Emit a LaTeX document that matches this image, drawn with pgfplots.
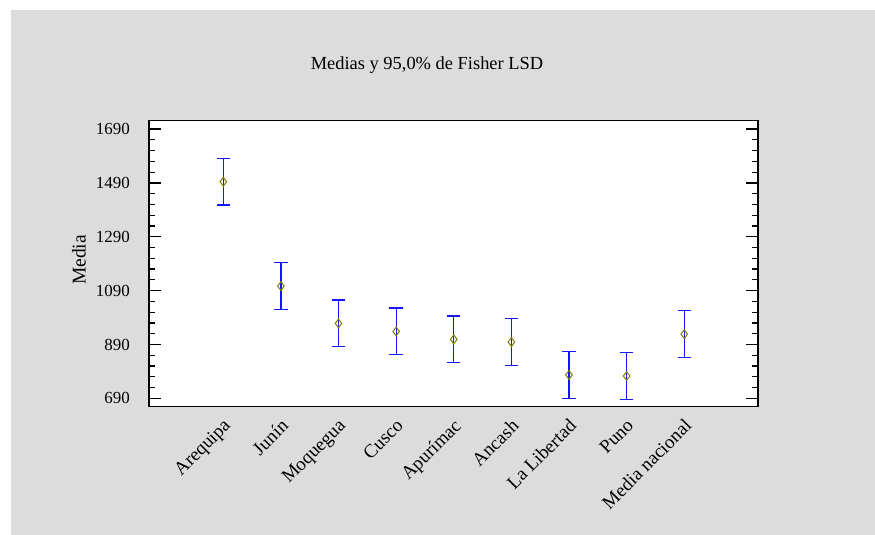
\documentclass[border=0pt]{standalone}
\usepackage{fontspec}
\setmainfont{Liberation Serif}
\usepackage{pgfplots}
\usepackage{pgfplotstable}
\pgfplotsset{compat=1.18}
\definecolor{bg}{RGB}{220,220,220}
\definecolor{olivem}{RGB}{128,128,0}
\pgfplotstableread{
x y
1 1494.5
2 1107
3 968.3
4 938.5
5 908.8
6 899
7 777
8 773
9 928.5
}\means
\pgfplotstableread{
x y
1 1407.9
1 1581.1
1 nan
2 1020.4
2 1193.6
2 nan
3 881.7
3 1054.9
3 nan
4 851.9
4 1025.1
4 nan
5 822.2
5 995.4
5 nan
6 812.4
6 985.6
6 nan
7 690.4
7 863.6
7 nan
8 686.4
8 859.6
8 nan
9 841.9
9 1015.1
}\limits
\begin{document}
\begin{tikzpicture}
\fill[white] (0bp,0bp) rectangle (875bp,535bp);
\fill[bg] (10.7bp,0bp) rectangle (875bp,525bp);
\begin{axis}[
  at={(149bp,128.3bp)}, anchor=south west,
  width=609bp, height=286bp, scale only axis,
  xmin=-0.29, xmax=10.28, ymin=659, ymax=1721,
  axis background/.style={fill=white},
  axis line style={line width=1.3bp, black},
  xtick={1,...,9},
  xticklabels={Arequipa,Junín,Moquegua,Cusco,Apurímac,Ancash,La Libertad,Puno,Media nacional},
  major x tick style={draw=none},
  ytick={690,890,...,1690}, minor y tick num=4,
  tick align=inside, ytick pos=both,
  major tick length=11.7bp, minor tick length=5.7bp,
  every tick/.style={black, line width=1.2bp},
  /pgf/number format/assume math mode=true,
  /pgf/number format/.cd, 1000 sep={}, /pgfplots/.cd,
  yticklabel style={font=\fontsize{17}{17}\selectfont, inner sep=0pt, anchor=east, xshift=-19bp},
  xticklabel style={font=\fontsize{19}{19}\selectfont, inner sep=0pt, xshift=-1bp, yshift=-11bp, rotate=45, anchor=north east},
  unbounded coords=jump,
  clip=false,
]
\addplot[draw={rgb,255:red,20;green,20;blue,255}, line width=1.3bp, mark=-, mark size=6.7bp,
  mark options={solid, draw={rgb,255:red,20;green,20;blue,255}, line width=1.3bp}]
table[x=x, y=y] {\limits};
\addplot[only marks, mark=diamond, mark size=4.4bp,
  mark options={draw=olivem, fill=white, line width=1bp}]
table[x=x, y=y] {\means};
\end{axis}
\node[font=\fontsize{18.5}{20}\selectfont, anchor=base] at (427bp,465.7bp) {Medias y 95,0\% de Fisher LSD};
\node[font=\fontsize{19.6}{20}\selectfont, rotate=90] at (79bp,275bp) {Media};
\end{tikzpicture}
\end{document}
